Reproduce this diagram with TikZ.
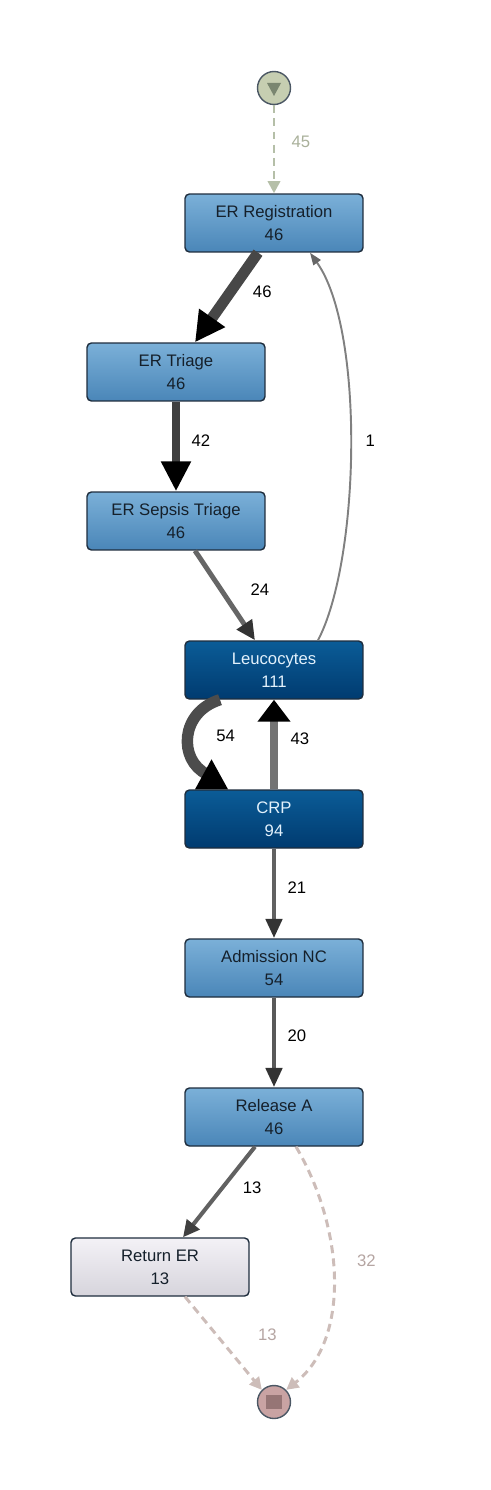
\documentclass[tikz,border=0pt]{standalone}
\usepackage{fontspec}
\setmainfont{Liberation Sans}
\usetikzlibrary{arrows.meta}

\definecolor{actborder}{HTML}{1E2D3D}
\definecolor{ltop}{HTML}{7BB0D8}
\definecolor{lbot}{HTML}{4A86B8}
\definecolor{dtop}{HTML}{0B5C97}
\definecolor{dbot}{HTML}{003B70}
\definecolor{gtop}{HTML}{F3F1F6}
\definecolor{gbot}{HTML}{D6D4DC}
\definecolor{ltext}{HTML}{15202B}
\definecolor{dtext}{HTML}{E2F1FC}
\definecolor{startfill}{HTML}{C6CEB1}
\definecolor{startmark}{HTML}{7A8670}
\definecolor{startline}{HTML}{B5BFA8}
\definecolor{startlbl}{HTML}{A9B09A}
\definecolor{endfill}{HTML}{C9A3A3}
\definecolor{endmark}{HTML}{967575}
\definecolor{endline}{HTML}{CDBDB9}
\definecolor{endlbl}{HTML}{B5A5A2}

\tikzset{
act/.style={draw=actborder, line width=0.8pt, rounded corners=2.5pt, minimum width=3.56cm, minimum height=1.16cm, align=center, font=\fontsize{9.5}{13}\selectfont},
lightact/.style={act, top color=ltop, bottom color=lbot, text=ltext},
darkact/.style={act, top color=dtop, bottom color=dbot, text=dtext},
greyact/.style={act, top color=gtop, bottom color=gbot, text=ltext},
flow/.style n args={5}{draw=#4, line width=#1, -{Triangle[length=#3,width=#2,color=#5]}},
dashflow/.style={draw=#1, line width=1.7pt, dash pattern=on 4.5pt off 3pt, -{Triangle[length=7pt,width=7pt,color=#1]}},
elbl/.style={font=\fontsize{9.5}{11}\selectfont, text=black, inner sep=1pt}
}

\begin{document}
\begin{tikzpicture}[x=0.02cm, y=-0.02cm]

\useasboundingbox (0,0) rectangle (490,1490);

\node[circle, draw=actborder!80, line width=0.8pt, fill=startfill, minimum size=0.66cm] (start) at (274,88) {};
\fill[startmark] (267,83) -- (281,83) -- (274,96) -- cycle;

\node[lightact] (ereg) at (274,223) {ER Registration\\46};
\node[lightact] (etriage) at (176,372) {ER Triage\\46};
\node[lightact] (esepsis) at (176,521) {ER Sepsis Triage\\46};
\node[darkact] (leuco) at (274,670) {Leucocytes\\111};
\node[darkact] (crp) at (274,819) {CRP\\94};
\node[lightact] (admnc) at (274,968) {Admission NC\\54};
\node[lightact] (rela) at (274,1117) {Release A\\46};
\node[greyact] (reter) at (160,1267) {Return ER\\13};

\node[circle, draw=actborder!80, line width=0.8pt, fill=endfill, minimum size=0.66cm] (stop) at (274,1402) {};
\fill[endmark] (266,1395) rectangle (282,1409);

\draw[dashflow=startline] (start) -- node[elbl, pos=0.42, xshift=0.54cm, text=startlbl] {45} (ereg);

\draw[flow={6.2pt}{17pt}{17pt}{black!72}{black}] ([xshift=-0.32cm]ereg.south) -- node[elbl, pos=0.44, xshift=0.64cm] {46} ([xshift=0.38cm]etriage.north);
\draw[flow={4.5pt}{16pt}{17pt}{black!75}{black}] (etriage) -- node[elbl, pos=0.43, xshift=0.5cm] {42} (esepsis);
\draw[flow={2.8pt}{10pt}{11pt}{black!60}{black!80}] ([xshift=0.38cm]esepsis.south) -- node[elbl, pos=0.44, xshift=0.77cm] {24} ([xshift=-0.38cm]leuco.north);

\draw[flow={1.1pt}{5pt}{7pt}{black!50}{black!60}] ([xshift=0.88cm]leuco.north) .. controls (360,560) and (365,330) .. node[elbl, xshift=0.4cm, yshift=0.1cm] {1} ([xshift=0.72cm]ereg.south);

\draw[draw=black!70, line width=6.5pt] ([xshift=-1.08cm]leuco.south) .. controls (180,712) and (178,760) .. node[elbl, xshift=0.76cm] {54} ([xshift=-1.34cm, yshift=0.3cm]crp.north);
\fill[black] ([xshift=-1.58cm]crp.north) -- ([xshift=-0.92cm]crp.north) -- ([xshift=-1.25cm, yshift=0.6cm]crp.north) -- cycle;
\draw[flow={4pt}{18pt}{12.5pt}{black!55}{black}] (crp) -- node[elbl, pos=0.56, xshift=0.52cm] {43} (leuco);

\draw[flow={2.8pt}{9pt}{11pt}{black!62}{black!80}] (crp) -- node[elbl, pos=0.43, xshift=0.46cm] {21} (admnc);
\draw[flow={2.8pt}{9pt}{11pt}{black!65}{black!80}] (admnc) -- node[elbl, pos=0.43, xshift=0.46cm] {20} (rela);
\draw[flow={2.3pt}{9pt}{9.5pt}{black!62}{black!75}] ([xshift=-0.38cm]rela.south) -- node[elbl, pos=0.45, xshift=0.59cm] {13} ([xshift=0.46cm]reter.north);

\draw[dashflow=endline] ([xshift=0.44cm]rela.south) .. controls (345,1230) and (350,1340) .. node[elbl, xshift=0.66cm, yshift=0.4cm, text=endlbl] {32} (stop.45);
\draw[dashflow=endline] ([xshift=0.5cm]reter.south) -- node[elbl, pos=0.41, xshift=1.02cm, text=endlbl] {13} (stop.135);

\end{tikzpicture}
\end{document}
